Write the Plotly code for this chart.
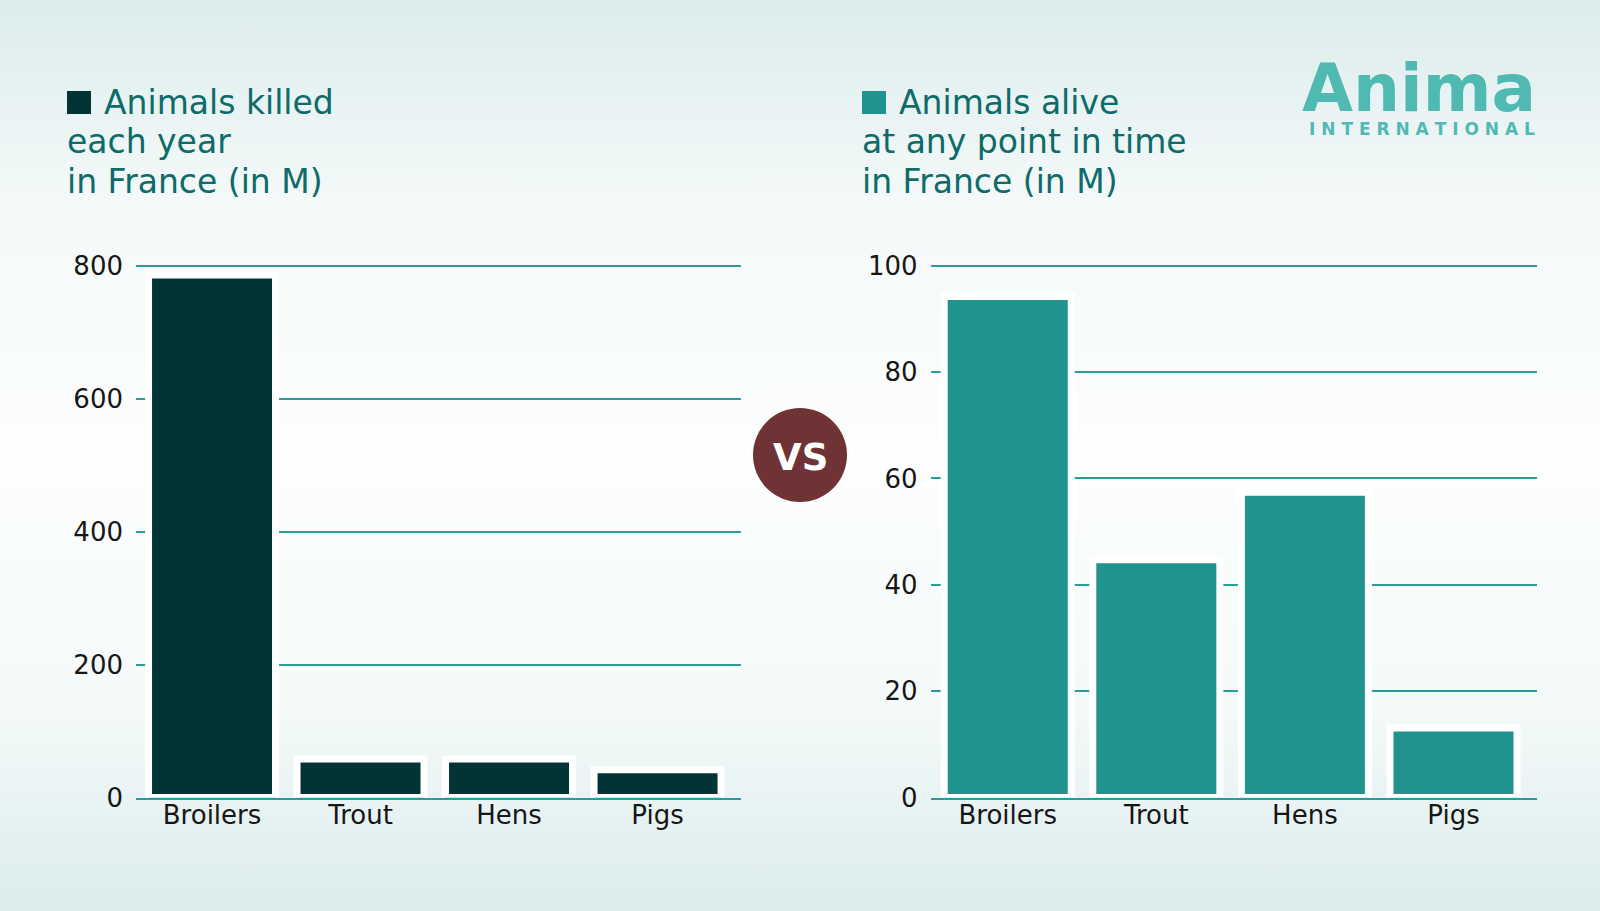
import base64
import plotly.graph_objects as go

categories = ["Broilers", "Trout", "Hens", "Pigs"]
killed_per_year = [786, 58, 58, 42]
alive_at_any_time = [94.2, 44.7, 57.4, 13.1]
left_ticks = [0, 200, 400, 600, 800]
right_ticks = [0, 20, 40, 60, 80, 100]

left_title = ["Animals killed", "each year", "in France (in M)"]
right_title = ["Animals alive", "at any point in time", "in France (in M)"]

DARK = "#023436"
TEAL = "#21938f"
GRID = "#2a9d9a"
TITLE_C = "#0d6b6a"
LOGO_C = "#50bab2"
FONT = "DejaVu Sans"

W, H = 1600, 911

svg = f'''<svg xmlns="http://www.w3.org/2000/svg" width="{W}" height="{H}" viewBox="0 0 {W} {H}" preserveAspectRatio="none">
<defs><linearGradient id="g" x1="0" y1="0" x2="0" y2="1">
<stop offset="0" stop-color="#dcecec"/>
<stop offset="0.22" stop-color="#f4f9f9"/>
<stop offset="0.5" stop-color="#fdfefe"/>
<stop offset="0.78" stop-color="#f4f9f9"/>
<stop offset="1" stop-color="#dbecec"/>
</linearGradient></defs>
<rect width="{W}" height="{H}" fill="url(#g)"/></svg>'''
bg_src = "data:image/svg+xml;base64," + base64.b64encode(svg.encode()).decode()

STROKE = 7
BARW = 0.855

fig = go.Figure()
fig.add_trace(go.Bar(x=categories, y=killed_per_year,
                     marker=dict(color=DARK, line=dict(color="white", width=STROKE)),
                     width=BARW, xaxis="x", yaxis="y", showlegend=False, hoverinfo="x+y"))
fig.add_trace(go.Bar(x=categories, y=alive_at_any_time,
                     marker=dict(color=TEAL, line=dict(color="white", width=STROKE)),
                     width=BARW, xaxis="x2", yaxis="y2", showlegend=False, hoverinfo="x+y"))

Y0, Y1 = 797.6, 264.6  # pixel rows of range ends
ydom = [1 - Y0 / H, 1 - Y1 / H]
axis_font = dict(family=FONT, size=26, color="#161616")

common_x = dict(showgrid=False, showline=True, linecolor=GRID, linewidth=2, ticks="",
                tickfont=axis_font, ticklabelstandoff=-7, fixedrange=True, layer="above traces",
                automargin=False)
common_y = dict(domain=ydom, showgrid=True, gridcolor=GRID, gridwidth=1.5, zeroline=False,
                showline=False, ticks="", tickfont=axis_font, ticklabelstandoff=12,
                fixedrange=True, automargin=False)

fig.update_layout(
    width=W, height=H,
    autosize=False,
    margin=dict(l=0, r=0, t=0, b=0, pad=0, autoexpand=False),
    paper_bgcolor="#f4f9f9",
    plot_bgcolor="rgba(0,0,0,0)",
    font=dict(family=FONT),
    xaxis=dict(domain=[136 / W, 741 / W], range=[-0.512, 3.562], anchor="y", **common_x),
    yaxis=dict(range=[0, 801.6], tickvals=left_ticks, anchor="x", **common_y),
    xaxis2=dict(domain=[930.6 / W, 1536.7 / W], range=[-0.519, 3.56], anchor="y2", **common_x),
    yaxis2=dict(range=[0, 100.2], tickvals=right_ticks, anchor="x2", **common_y),
    images=[dict(source=bg_src, xref="paper", yref="paper", x=0, y=1, sizex=1, sizey=1,
                 xanchor="left", yanchor="top", sizing="stretch", layer="below")],
)


def px(x):
    return x / W


def py(y):
    return 1 - y / H


shapes = [
    dict(type="rect", xref="paper", yref="paper", x0=px(67), x1=px(91), y0=py(114), y1=py(91),
         fillcolor=DARK, line=dict(width=0)),
    dict(type="rect", xref="paper", yref="paper", x0=px(862), x1=px(886), y0=py(114), y1=py(91),
         fillcolor=TEAL, line=dict(width=0)),
    dict(type="circle", xref="paper", yref="paper", x0=px(800 - 47), x1=px(800 + 47),
         y0=py(455 + 47), y1=py(455 - 47), fillcolor="#6f3335", line=dict(width=0)),
]
fig.update_layout(shapes=shapes)

title_font = dict(family=FONT, size=33, color=TITLE_C)
line_y = [102, 142, 182]
annotations = []
for left_x, sq_x, lines in [(65, 102, left_title), (860, 897, right_title)]:
    for i, (txt, yy) in enumerate(zip(lines, line_y)):
        annotations.append(dict(text=txt, xref="paper", yref="paper", x=px(sq_x if i == 0 else left_x),
                                y=py(yy), xanchor="left", yanchor="middle", align="left",
                                showarrow=False, font=title_font))

annotations += [
    dict(text="<b>VS</b>", xref="paper", yref="paper", x=px(800), y=py(457), xanchor="center",
         yanchor="middle", showarrow=False, font=dict(family=FONT, size=37, color="white")),
    dict(text="<b>Anima</b>", xref="paper", yref="paper", x=px(1538), y=py(89), xanchor="right",
         yanchor="middle", showarrow=False, font=dict(family=FONT, size=66, color=LOGO_C)),
    dict(text="<b>" + " ".join("INTERNATIONAL") + "</b>", xref="paper", yref="paper", x=px(1537),
         y=py(129), xanchor="right", yanchor="middle", showarrow=False,
         font=dict(family=FONT, size=17, color=LOGO_C)),
]
fig.update_layout(annotations=annotations)

fig.write_html("out.html", config={"displayModeBar": False},
               post_script="document.body.style.margin='0';document.body.style.overflow='hidden';")
